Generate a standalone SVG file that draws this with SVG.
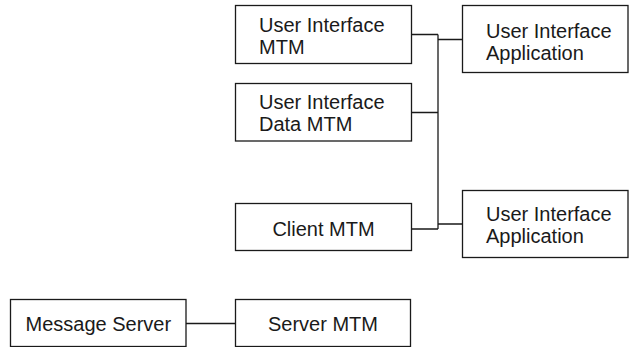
<svg xmlns="http://www.w3.org/2000/svg" width="629" height="347" viewBox="0 0 629 347">
  <style>
    .box { fill: #ffffff; stroke: #1a1a1a; stroke-width: 1.3; }
    .wire { fill: none; stroke: #1a1a1a; stroke-width: 1.3; }
    .lbl { font-family: "Liberation Sans", Arial, Helvetica, sans-serif; font-size: 20px; fill: #1a1a1a; }
    .mid { text-anchor: middle; }
  </style>
  <rect width="629" height="347" fill="#ffffff"/>

  <!-- connectors -->
  <g id="connectors">
    <path class="wire" d="M411.5 34.5 H438 M411.5 112.5 H438 M411.5 229 H438 M438 34.5 V229"/>
    <path class="wire" d="M438 39.5 H462.5 M438 224 H462.5"/>
    <path class="wire" d="M186 323.5 H235.5"/>
  </g>

  <g id="ui-mtm">
    <rect class="box" x="235.5" y="5.5" width="176" height="58"/>
    <text class="lbl" x="259" y="31.5">User Interface</text>
    <text class="lbl" x="259" y="54">MTM</text>
  </g>

  <g id="ui-data-mtm">
    <rect class="box" x="235.5" y="83.5" width="176" height="57.5"/>
    <text class="lbl" x="259" y="108.5">User Interface</text>
    <text class="lbl" x="259" y="131">Data MTM</text>
  </g>

  <g id="client-mtm">
    <rect class="box" x="235.5" y="203.5" width="176" height="47"/>
    <text class="lbl mid" x="323.5" y="236">Client MTM</text>
  </g>

  <g id="ui-app-1">
    <rect class="box" x="462.5" y="5.5" width="165.5" height="67"/>
    <text class="lbl" x="486" y="38">User Interface</text>
    <text class="lbl" x="486" y="60">Application</text>
  </g>

  <g id="ui-app-2">
    <rect class="box" x="462.5" y="190.5" width="165.5" height="67"/>
    <text class="lbl" x="486" y="220.5">User Interface</text>
    <text class="lbl" x="486" y="243">Application</text>
  </g>

  <g id="message-server">
    <rect class="box" x="10.5" y="299.5" width="175.5" height="47"/>
    <text class="lbl mid" x="98.3" y="330.5">Message Server</text>
  </g>

  <g id="server-mtm">
    <rect class="box" x="235.5" y="299.5" width="175" height="47"/>
    <text class="lbl mid" x="323" y="330.5">Server MTM</text>
  </g>
</svg>
